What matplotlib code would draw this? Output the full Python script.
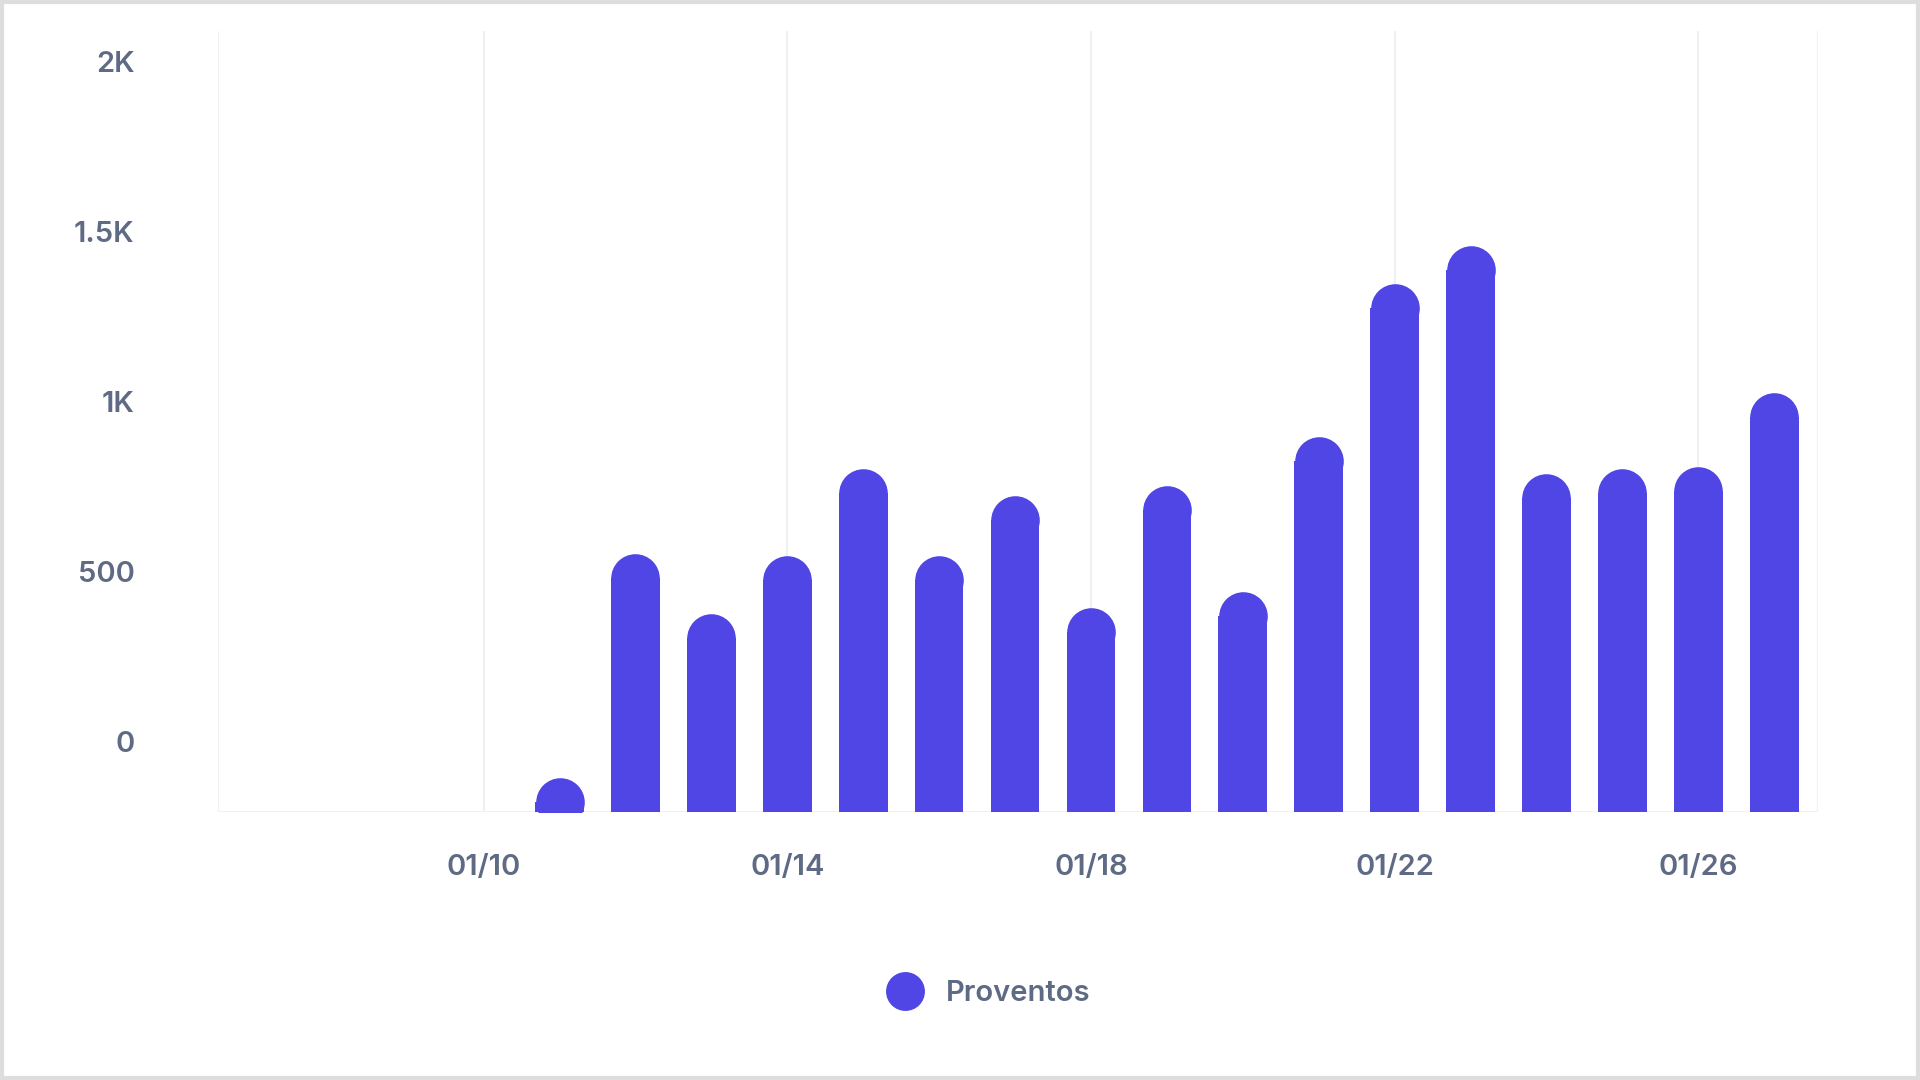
import matplotlib.pyplot as plt
from matplotlib.lines import Line2D
from matplotlib.patches import Rectangle
import numpy as np

days = np.arange(11, 28)
values = [101, 762, 585, 755, 1011, 755, 931, 603, 960, 650,
          1105, 1556, 1668, 996, 1011, 1018, 1235]
tick_days = [10, 14, 18, 22, 26]
tick_labels = ['01/10', '01/14', '01/18', '01/22', '01/26']
y_ticks = [0, 500, 1000, 1500, 2000]
y_labels = ['0', '500', '1K', '1.5K', '2K']

color = '#4f46e5'
text_color = '#5f6b85'

plt.rcParams['font.family'] = ['Inter', 'DejaVu Sans']

fig = plt.figure(figsize=(19.2, 10.8), dpi=100)
fig.patches.append(Rectangle((0.001, 0.002), 0.998, 0.996, transform=fig.transFigure,
                             fill=False, edgecolor='#dddddd', linewidth=3))
ax = fig.add_axes([0.1135, 0.248, 0.8335, 0.7237])

ymax = 2300
ax.set_xlim(6.5, 27.58)
ax.set_ylim(0, ymax)

# bar width in pixels -> radius in data units
bar_w = 0.64
ax_h_px = 0.7237 * 1080
r = (bar_w / 2) * (0.8335 * 1920 / (27.58 - 6.5)) / ax_h_px * ymax
diam_pt = bar_w * (0.8335 * 1920 / (27.58 - 6.5)) * 72 / 100

for d, v in zip(days, values):
    ax.bar(d, v - r, width=bar_w, color=color, zorder=3)
ax.scatter(days, np.array(values) - r, s=diam_pt ** 2, color=color,
           marker='o', linewidths=0, zorder=3, clip_on=True)

for x in [6.5] + tick_days + [27.58]:
    ax.axvline(x, color='#eef0f3', linewidth=1.5, zorder=1)
ax.axhline(0, color='#eef0f3', linewidth=2, zorder=1)

for s in ax.spines.values():
    s.set_visible(False)
ax.set_xticks(tick_days)
ax.set_xticklabels(tick_labels)
ax.set_yticks([])
for yv, lab in zip(y_ticks, y_labels):
    ax.text(6.5 - 1.1, yv + 200, lab, ha='right', va='center',
            fontsize=21, color=text_color, fontweight='semibold')
ax.tick_params(axis='x', length=0, pad=30, labelsize=21, labelcolor=text_color)
for t in ax.get_xticklabels():
    t.set_fontweight('semibold')

handle = Line2D([], [], marker='o', linestyle='', markersize=28,
                markerfacecolor=color, markeredgewidth=0)
leg = fig.legend([handle], ['Proventos'], loc='center', bbox_to_anchor=(0.512, 0.08),
                 frameon=False, fontsize=21, handletextpad=0.4)
for t in leg.get_texts():
    t.set_color(text_color)
    t.set_fontweight('semibold')

fig.savefig('out.png', dpi=100)
